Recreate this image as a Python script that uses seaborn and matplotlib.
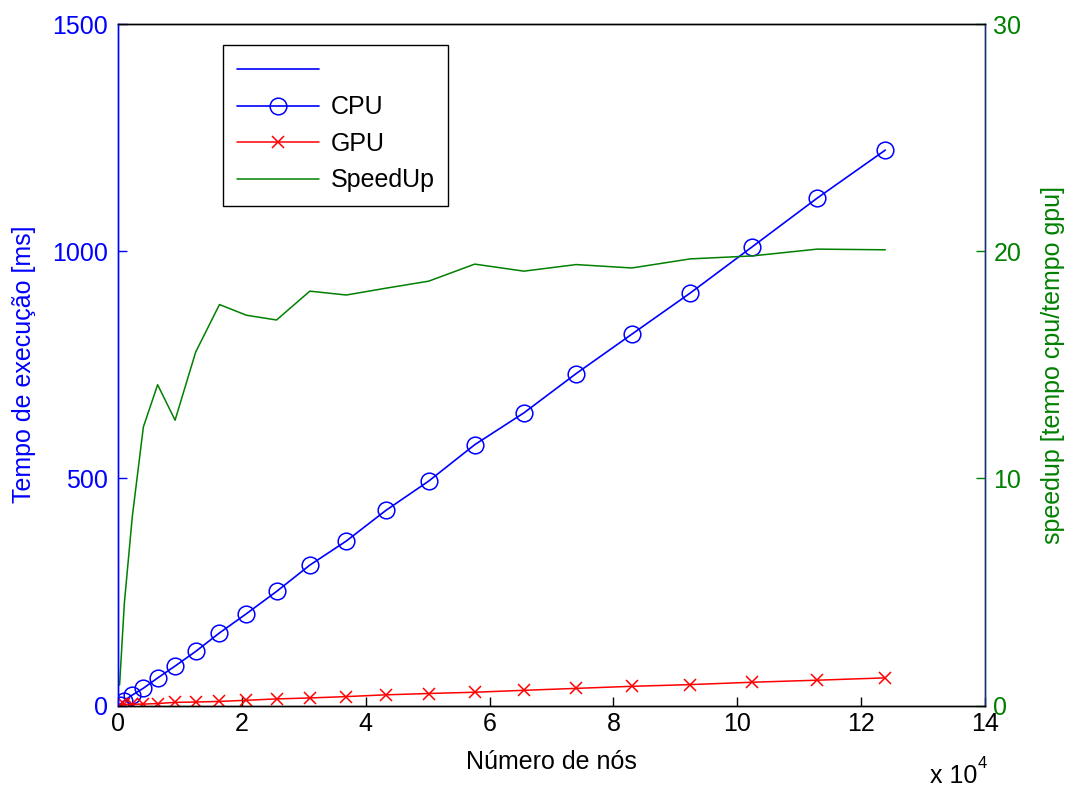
import matplotlib
matplotlib.use("Agg")
import matplotlib.pyplot as plt
from matplotlib.lines import Line2D
import seaborn as sns
import pandas as pd

# ---- data ----
nodes = [256, 1024, 2304, 4096, 6400, 9216, 12544, 16384, 20736, 25600, 30976,
         36864, 43264, 50176, 57600, 65536, 73984, 82944, 92416, 102400, 112896, 123904]
cpu_ms = [1.5, 11, 23, 38, 60.6, 86.8, 119, 159.7, 202, 251, 309,
          362, 429.5, 494, 574, 644, 730.6, 817, 908, 1009.5, 1116.7, 1222.5]
gpu_ms = [1.7, 2.4, 2.8, 3.1, 4.3, 6.9, 7.6, 9.0, 11.5, 14.5, 16.6,
          19.6, 23.5, 26.4, 29.2, 33.4, 37.7, 42.2, 46.0, 51.2, 55.7, 60.8]
speedup = [0.9, 4.5, 8.3, 12.26, 14.12, 12.56, 15.56, 17.65, 17.18, 16.97, 18.24,
           18.07, 18.37, 18.68, 19.43, 19.12, 19.41, 19.26, 19.66, 19.79, 20.09, 20.06]
x_ticks = [0, 2, 4, 6, 8, 10, 12, 14]
left_ticks = [0, 500, 1000, 1500]
right_ticks = [0, 10, 20, 30]

df = pd.DataFrame({"nodes": nodes, "cpu": cpu_ms, "gpu": gpu_ms, "speedup": speedup})

sns.set_style("white")
plt.rcParams["font.family"] = ["Liberation Sans", "DejaVu Sans"]
plt.rcParams["text.color"] = "black"
plt.rcParams["axes.labelcolor"] = "black"
FS = 18

BLUE = (0, 0, 1)
RED = (1, 0, 0)
GREEN = (0, 0.5, 0)

fig = plt.figure(figsize=(10.65, 7.88), dpi=100)
ax = fig.add_axes([118 / 1065, 1 - 705.5 / 788, (985 - 118) / 1065, (705.5 - 24) / 788])
ax2 = ax.twinx()

sns.lineplot(data=df, x="nodes", y="cpu", ax=ax, color=BLUE, lw=1.2, marker="o",
             markersize=12, markerfacecolor="none", markeredgecolor=BLUE,
             markeredgewidth=1.1, sort=False, errorbar=None)
sns.lineplot(data=df, x="nodes", y="gpu", ax=ax, color=RED, lw=1.1, marker="x",
             markersize=9, markeredgecolor=RED, markeredgewidth=1.1,
             sort=False, errorbar=None)
sns.lineplot(data=df, x="nodes", y="speedup", ax=ax2, color=GREEN, lw=1.1,
             sort=False, errorbar=None)

ax.set_xlim(0, 140000)
ax.set_ylim(0, 1500)
ax2.set_ylim(0, 30)
ax.set_xticks([t * 1e4 for t in x_ticks])
ax.set_xticklabels([str(t) for t in x_ticks], fontsize=FS, color="black")
ax.set_yticks(left_ticks)
ax.set_yticklabels([str(t) for t in left_ticks], fontsize=FS, color=BLUE)
ax2.set_yticks(right_ticks)
ax2.set_yticklabels([str(t) for t in right_ticks], fontsize=FS, color=GREEN)

ax.tick_params(axis="x", direction="in", length=6.5, width=1, pad=5, colors="black",
               labelcolor="black", bottom=True, top=False)
ax.tick_params(axis="y", direction="in", length=6.5, width=1, pad=7, colors=BLUE,
               left=True, right=False)
ax2.tick_params(axis="y", direction="in", length=6.5, width=1, pad=6, colors=GREEN,
                right=True, left=False)

ax.set_xlabel("Número de nós", fontsize=FS, color="black", labelpad=10)
ax.set_ylabel("Tempo de execução [ms]", fontsize=FS, color=BLUE, labelpad=12)
ax2.set_ylabel("speedup [tempo cpu/tempo gpu]", fontsize=FS, color=GREEN, labelpad=14)

for a in (ax, ax2):
    for s in a.spines.values():
        s.set_visible(True)
        s.set_linewidth(1.0)
    a.spines["left"].set_color(BLUE)
    a.spines["top"].set_color("black")
    a.spines["bottom"].set_color("black")
    a.spines["right"].set_color("#1c2f7a")
ax.grid(False)
ax2.grid(False)

# scale factor text
fig.text(977 / 1065, 1 - 783 / 788, "x 10", fontsize=FS, ha="right", va="baseline",
         color="black")
fig.text(978 / 1065, 1 - 768 / 788, "4", fontsize=12, ha="left", va="baseline",
         color="black")

handles = [
    Line2D([], [], color=BLUE, lw=1.2),
    Line2D([], [], color=BLUE, lw=1.2, marker="o", markersize=12,
           markerfacecolor="none", markeredgecolor=BLUE, markeredgewidth=1.1),
    Line2D([], [], color=RED, lw=1.1, marker="x", markersize=9,
           markeredgecolor=RED, markeredgewidth=1.1),
    Line2D([], [], color=GREEN, lw=1.1),
]
labels = ["", "CPU", "GPU", "SpeedUp"]
leg = ax2.legend(handles, labels, loc="upper left",
                 bbox_to_anchor=(223 / 1065, 1 - 45 / 788), bbox_transform=fig.transFigure,
                 fontsize=FS, frameon=True, fancybox=False, shadow=False,
                 handlelength=3.3, handletextpad=0.45, labelspacing=0.5,
                 borderpad=0.55, borderaxespad=0, markerscale=1)
leg.get_frame().set_edgecolor("black")
leg.get_frame().set_linewidth(1.0)
leg.get_frame().set_alpha(1)
for t in leg.get_texts():
    t.set_color("black")

fig.savefig("out.png", dpi=100, facecolor="white")
